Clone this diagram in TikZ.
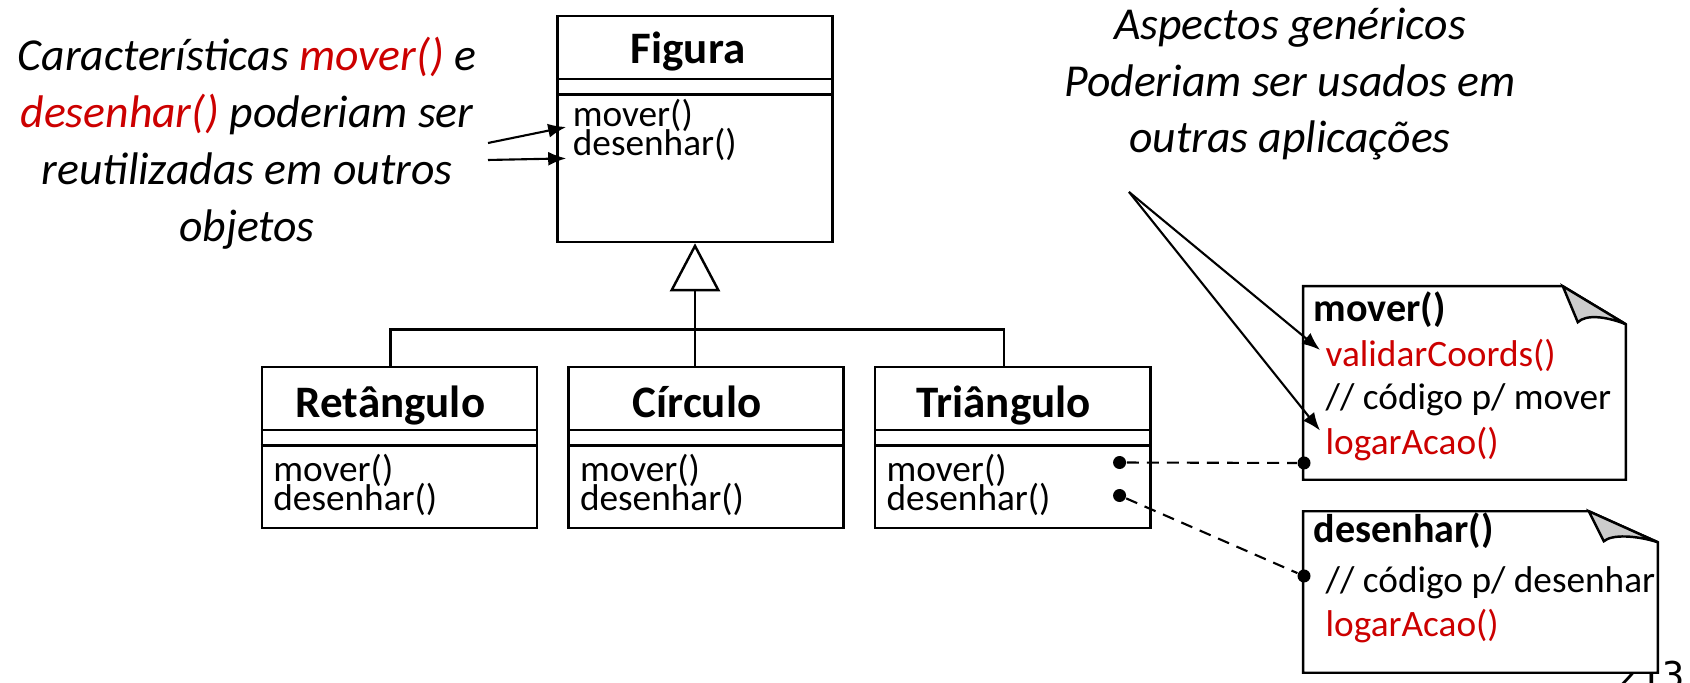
\documentclass[tikz,border=0pt]{standalone}
\usepackage{fontspec}
\setmainfont{Carlito}
\newfontfamily\pagefont{DejaVu Sans Mono}
\usetikzlibrary{arrows.meta, positioning, calc}
\definecolor{figred}{RGB}{204, 0, 0}
\definecolor{foldgray}{RGB}{204, 204, 204}

\begin{document}
\begin{tikzpicture}[
    x=0.01cm, y=-0.01cm,
    line/.style={line width=0.7pt},
    arr/.style={-{Latex[length=1.8mm, width=1.4mm]}, line width=0.6pt},
    gen/.style={-{Triangle[open, length=4.8mm, width=5mm]}, line width=0.7pt},
    dashline/.style={dashed, dash pattern=on 3.4pt off 2.3pt, line width=0.6pt},
    cls/.style={draw, line width=0.7pt, minimum width=2.75cm, inner sep=0pt},
    clsname/.style={anchor=base, inner sep=0pt,
                    font=\fontsize{12.8}{14}\selectfont\bfseries},
    meth/.style={anchor=base west, inner sep=0pt,
                 font=\fontsize{10.6}{12}\selectfont},
    notebox/.style={inner sep=0pt},
    notehead/.style={anchor=base west, inner sep=0pt,
                     font=\fontsize{11.4}{13}\selectfont\bfseries},
    notetxt/.style={anchor=base west, inner sep=0pt,
                    font=\fontsize{10.6}{12}\selectfont},
    callout/.style={anchor=base, align=center, inner sep=0pt,
                    font=\fontsize{13}{16.2}\selectfont\itshape},
    dot/.style={circle, fill, inner sep=0pt, minimum size=1.3mm}
  ]
    \useasboundingbox (0,0) rectangle (1690,683);

    % comentarios (ancorados na ultima linha)
    \node[callout] (reuso) at (247,241.7)
      {Características \textcolor{figred}{mover()} e\\
       \textcolor{figred}{desenhar()} poderiam ser\\
       reutilizadas em outros\\ objetos};
    \node[callout] (aspectos) at (1290,153)
      {Aspectos genéricos\\ Poderiam ser usados em\\ outras aplicações};

    % classes
    \node[cls, minimum height=2.26cm] (fig) at (695,129) {};
    \node[cls, minimum height=1.61cm] (ret) at (399.5,447.3) {};
    \node[cls, minimum height=1.61cm, right=0.29cm of ret] (cir) {};
    \node[cls, minimum height=1.61cm, right=0.29cm of cir] (tri) {};
    \foreach \c in {fig, ret, cir, tri} {
      \draw[line] ($(\c.north west)+(0,64.5)$) -- ($(\c.north east)+(0,64.5)$);
      \draw[line] ($(\c.north west)+(0,80)$) -- ($(\c.north east)+(0,80)$);
    }

    \node[clsname] (figname) at ($(fig.north)+(-7,49)$) {Figura};
    \node[clsname] (retname) at ($(ret.north)+(-9,52)$) {Retângulo};
    \node[clsname] (cirname) at ($(cir.north)+(-9,52)$) {Círculo};
    \node[clsname] (triname) at ($(tri.north)+(-9,52)$) {Triângulo};

    \node[meth] (figmv) at ($(fig.north west)+(16,112.3)$) {mover()};
    \node[meth] (figds) at ($(fig.north west)+(16,140.7)$) {desenhar()};
    \node[meth] (retmv) at ($(ret.north west)+(12,116)$) {mover()};
    \node[meth] (retds) at ($(ret.north west)+(12,145)$) {desenhar()};
    \node[meth] (cirmv) at ($(cir.north west)+(12,116)$) {mover()};
    \node[meth] (cirds) at ($(cir.north west)+(12,145)$) {desenhar()};
    \node[meth] (trimv) at ($(tri.north west)+(12,116)$) {mover()};
    \node[meth] (trids) at ($(tri.north west)+(12,145)$) {desenhar()};

    % heranca
    \coordinate (join) at ($(fig.south)+(0,86)$);
    \draw[gen] (join) -- (fig.south);
    \draw[line] (retname |- ret.north) |- (join) -| (triname |- tri.north);
    \draw[line] (join) -- (join |- cir.north);

    \node[anchor=base east, inner sep=0pt, font=\pagefont\fontsize{10.5}{12}\selectfont]
      (pgnum) at (1685,689) {213};

    % notas
    \node[notebox, minimum width=3.21cm, minimum height=1.92cm] (nmover) at (1464.5,383) {};
    \node[notebox, minimum width=3.53cm, minimum height=1.60cm] (ndesenhar) at (1480.5,592) {};
    \draw[line, fill=white] (nmover.south west) -- (nmover.north west)
      -- ($(nmover.north east)+(-63,0)$) -- ($(nmover.north east)+(0,38)$)
      -- (nmover.south east) -- cycle;
    \draw[line, fill=foldgray] ($(nmover.north east)+(-63,0)$)
      -- ($(nmover.north east)+(-48,36)$)
      .. controls ($(nmover.north east)+(-40,28)$) and ($(nmover.north east)+(-20,30)$)
      .. ($(nmover.north east)+(0,38)$) -- cycle;
    \draw[line, fill=white] (ndesenhar.south west) -- (ndesenhar.north west)
      -- ($(ndesenhar.north east)+(-69,0)$) -- ($(ndesenhar.north east)+(0,31)$)
      -- (ndesenhar.south east) -- cycle;
    \draw[line, fill=foldgray] ($(ndesenhar.north east)+(-69,0)$)
      -- ($(ndesenhar.north east)+(-54,30)$)
      .. controls ($(ndesenhar.north east)+(-46,23)$) and ($(ndesenhar.north east)+(-22,24)$)
      .. ($(ndesenhar.north east)+(0,31)$) -- cycle;

    \node[notehead] (mvhead) at (1313,321.7) {mover()};
    \node[notetxt, text=figred] (mvval) at (1325,367) {validarCoords()};
    \node[notetxt] (mvcod) at (1325,410) {// código p/ mover};
    \node[notetxt, text=figred] (mvlog) at (1325,455) {logarAcao()};
    \node[notehead] (dshead) at (1313,543) {desenhar()};
    \node[notetxt] (dscod) at (1325,593) {// código p/ desenhar};
    \node[notetxt, text=figred] (dslog) at (1325,637) {logarAcao()};

    % ligacoes
    \node[dot] (tdot1) at ($(tri.north east)+(-32,97)$) {};
    \node[dot] (tdot2) at ($(tri.north east)+(-32,130)$) {};
    \node[dot] (ndot1) at (1304,463) {};
    \node[dot] (ndot2) at (1304,576) {};
    \draw[dashline] (tdot1) -- (ndot1);
    \draw[dashline] (tdot2) -- (ndot2);

    \coordinate (carac1) at (488,143);
    \coordinate (carac2) at (488,160);
    \draw[arr] (carac1) -- ([xshift=-0.06cm]figmv.base west);
    \draw[arr] (carac2) -- ([shift={(-6,3)}]figds.base west);

    \coordinate (aspfoot) at (1129,192);
    \draw[arr] (aspfoot) -- ([shift={(-5,-6)}]mvval.west);
    \draw[arr] (aspfoot) -- ([shift={(-5,-14)}]mvlog.west);
  \end{tikzpicture}
\end{document}
